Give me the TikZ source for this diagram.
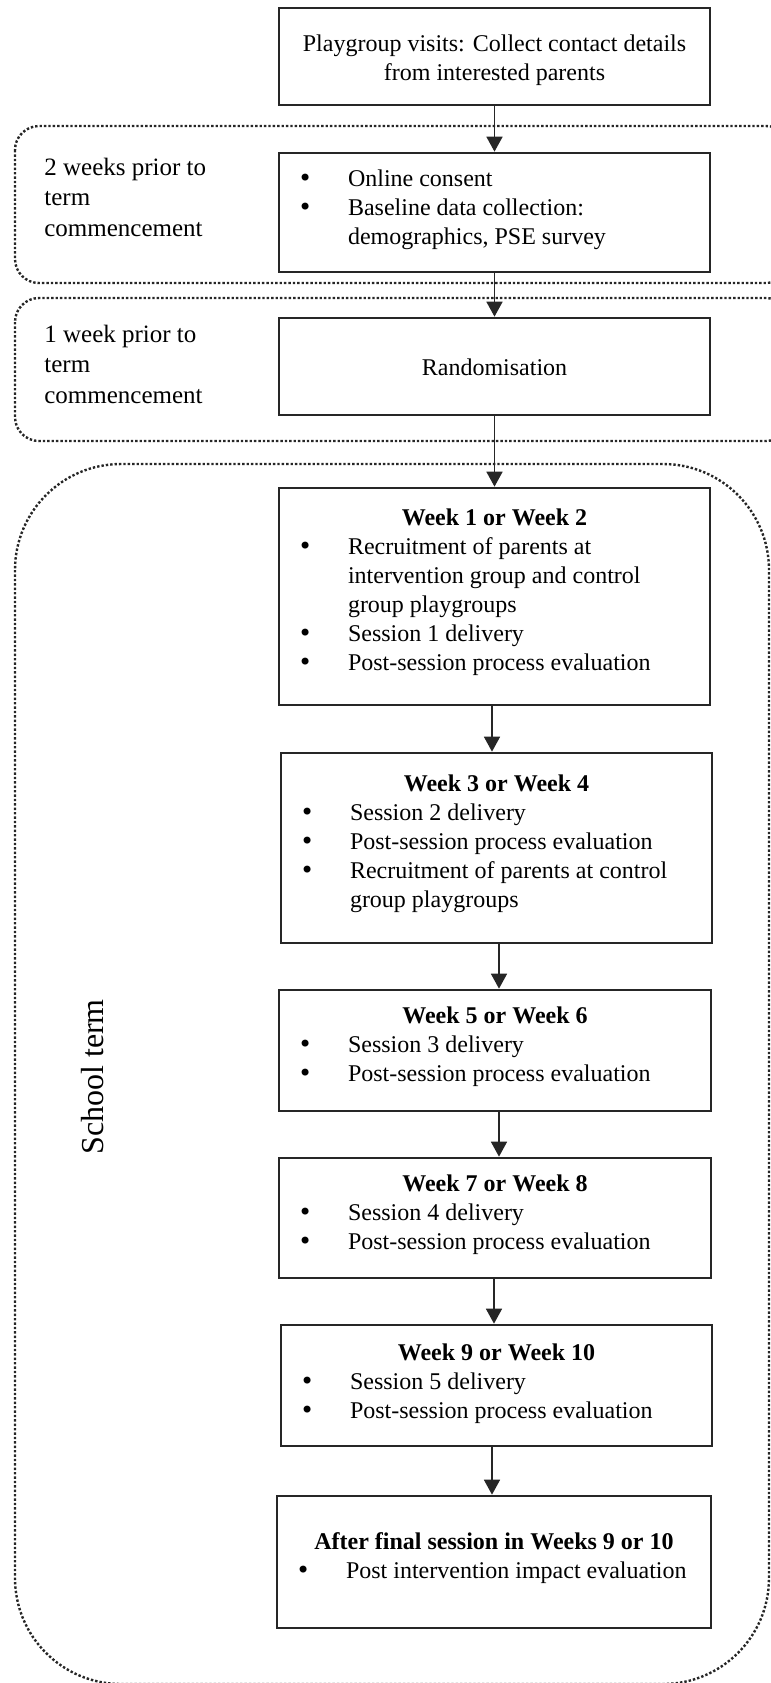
\documentclass[tikz,border=0pt]{standalone}
\usepackage{fontspec}
\setmainfont{Liberation Serif}
\newfontfamily\dvs{DejaVu Sans}
\usetikzlibrary{arrows.meta}

% bullet and text indents inside the step boxes
\newlength\bin \setlength\bin{9.5pt}
\newlength\tin \setlength\tin{34.5pt}
\newcommand\bul{{\dvs\char"2022}}
% one line each: bold centred heading, centred line, bulleted line, continuation line
\newcommand\hd[1]{\hbox to\linewidth{\hss\strut\bfseries #1\hss}}
\newcommand\cn[1]{\hbox to\linewidth{\hss\strut #1\hss}}
\newcommand\bl[1]{\hbox to\linewidth{\hskip\bin\rlap{\bul}\hskip\dimexpr\tin-\bin\relax\strut #1\hss}}
\newcommand\cl[1]{\hbox to\linewidth{\hskip\tin\strut #1\hss}}
% box body: height, width, first baseline below the top edge, lines
\newcommand\panel[4]{\parbox[c][#1][t]{#2}{\vspace*{\dimexpr#3-0.7\baselineskip\relax}#4}}

\tikzset{
  stepbox/.style={draw=black!85, line width=1.35pt, inner sep=0pt,
    font=\fontsize{12}{14.5}\selectfont},
  phase/.style={draw=black!85, line width=1.2pt, densely dotted, rounded corners=#1},
  arr/.style={draw=black!85, line width=0.85pt, -{Triangle[length=7.5pt,width=8pt]}},
  lab/.style={inner sep=0pt, align=left, font=\fontsize{12.5}{15.25}\selectfont},
}

\begin{document}
\begin{tikzpicture}[x=0.5pt,y=-0.5pt]
\useasboundingbox (0,0) rectangle (771,1683);
\clip (0,0) rectangle (771,1683);

% phase frames
\draw[phase=12pt] (15,126) rectangle (790,283);
\draw[phase=12pt] (15,298) rectangle (790,441);
\draw[phase=53pt] (15,464) rectangle (769,1684);

% phase labels
\node[lab, anchor=north west] (l1) at (44,153.6) {\strut 2 weeks prior to\\term\\commencement};
\node[lab, anchor=north west] (l2) at (44,320.6) {\strut 1 week prior to\\term\\commencement};
\node[rotate=90, inner sep=0pt, font=\fontsize{16}{19}\selectfont] (term) at (93,1077) {School term};

% steps
\node[stepbox] (b1) at (494.5,56.5) {\panel{48.5pt}{215.5pt}{21.5pt}{%
  \cn{Playgroup visits: Collect contact details}\cn{from interested parents}}};
\node[stepbox] (b2) at (494.5,212.5) {\panel{59.5pt}{215.5pt}{16.8pt}{%
  \bl{Online consent}\bl{Baseline data collection:}\cl{demographics, PSE survey}}};
\node[stepbox] (b3) at (494.5,366.5) {\panel{48.5pt}{215.5pt}{28.5pt}{%
  \cn{Randomisation}}};
\node[stepbox] (b4) at (494.5,596.5) {\panel{108.5pt}{215.5pt}{18.7pt}{%
  \hd{Week 1 or Week 2}\bl{Recruitment of parents at}\cl{intervention group and control}%
  \cl{group playgroups}\bl{Session 1 delivery}\bl{Post-session process evaluation}}};
\node[stepbox] (b5) at (496.5,848) {\panel{95pt}{215.5pt}{19pt}{%
  \hd{Week 3 or Week 4}\bl{Session 2 delivery}\bl{Post-session process evaluation}%
  \bl{Recruitment of parents at control}\cl{group playgroups}}};
\node[stepbox] (b6) at (495,1050.5) {\panel{60.5pt}{216pt}{16.5pt}{%
  \hd{Week 5 or Week 6}\bl{Session 3 delivery}\bl{Post-session process evaluation}}};
\node[stepbox] (b7) at (495,1218) {\panel{60pt}{216pt}{16.8pt}{%
  \hd{Week 7 or Week 8}\bl{Session 4 delivery}\bl{Post-session process evaluation}}};
\node[stepbox] (b8) at (496.5,1385.5) {\panel{60.5pt}{215.5pt}{17.5pt}{%
  \hd{Week 9 or Week 10}\bl{Session 5 delivery}\bl{Post-session process evaluation}}};
\node[stepbox] (b9) at (494,1562) {\panel{66pt}{217pt}{26.5pt}{%
  \hd{After final session in Weeks 9 or 10}\bl{Post intervention impact evaluation}}};

% flow
\draw[arr] (b1) -- (b2);
\draw[arr] (b2) -- (b3);
\draw[arr] (b3) -- (b4);
\draw[arr] ([xshift=-1.25pt]b4.south) -- ([xshift=-2.25pt]b5.north);
\draw[arr] ([xshift=1.25pt]b5.south) -- ([xshift=2pt]b6.north);
\draw[arr] ([xshift=2pt]b6.south) -- ([xshift=2pt]b7.north);
\draw[arr] ([xshift=-0.5pt]b7.south) -- ([xshift=-1.25pt]b8.north);
\draw[arr] ([xshift=-2.25pt]b8.south) -- ([xshift=-1pt]b9.north);
\end{tikzpicture}
\end{document}
